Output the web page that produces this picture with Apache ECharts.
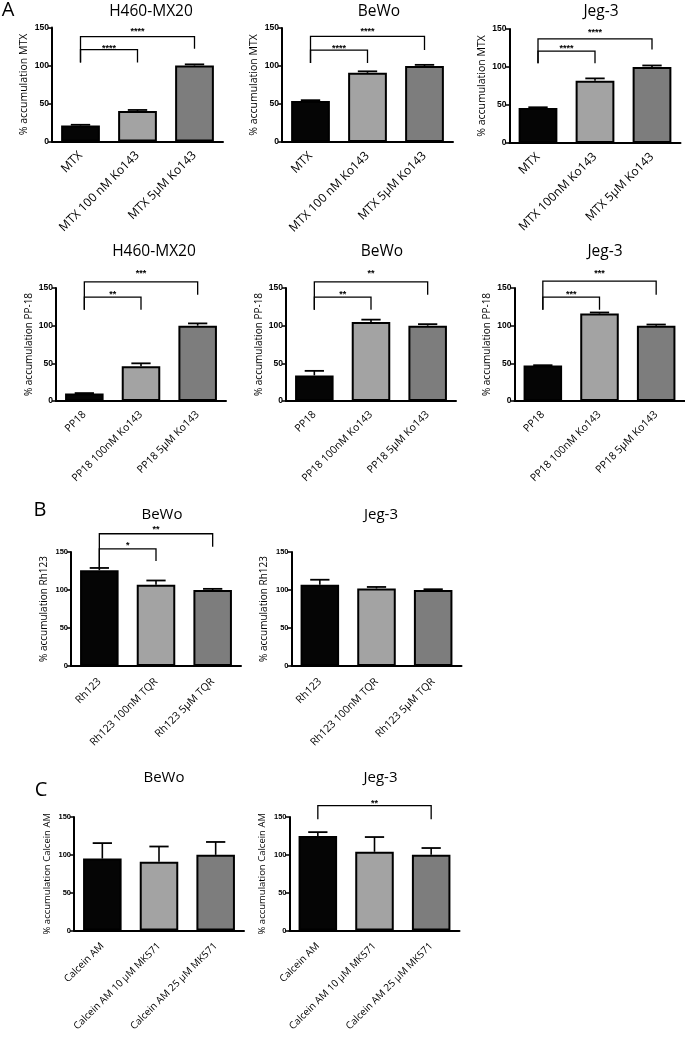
<!DOCTYPE html>
<html><head><meta charset="utf-8">
<script src="https://cdn.jsdelivr.net/npm/echarts@6/dist/echarts.min.js"></script>
<style>html,body{margin:0;padding:0;background:#fff}#c{width:685px;height:1039px}</style>
</head><body><div id="c"></div>
<script>
// ---------- categories ----------
const catsMtxA = ['MTX', 'MTX 100 nM Ko143', 'MTX 5\u00b5M Ko143'];
const catsMtxB = ['MTX', 'MTX 100nM Ko143', 'MTX 5\u00b5M Ko143'];
const catsPP18 = ['PP18', 'PP18 100nM Ko143', 'PP18 5\u00b5M Ko143'];
const catsRh123 = ['Rh123', 'Rh123 100nM TQR', 'Rh123 5\u00b5M TQR'];
const catsCalcein = ['Calcein AM', 'Calcein AM 10 \u00b5M MK571', 'Calcein AM 25 \u00b5M MK571'];

// ---------- y axis ticks ----------
const yMin = 0, yMax = 150, yStep = 50;

// ---------- values: mean and upper error ----------
const h460MtxMean = [21, 40, 100];   const h460MtxErr = [1, 1.5, 1.5];
const bewoMtxMean = [54, 91, 100];   const bewoMtxErr = [1, 2, 1.5];
const jegMtxMean  = [46, 82, 100];   const jegMtxErr  = [1, 3, 2];
const h460PpMean  = [10, 46, 100];   const h460PpErr  = [0.5, 4, 3];
const bewoPpMean  = [34, 105, 100];  const bewoPpErr  = [6, 3, 2];
const jegPpMean   = [47, 116, 100];  const jegPpErr   = [0.5, 1.5, 1.5];
const bewoRhMean  = [126, 107, 100]; const bewoRhErr  = [3, 5.5, 1.5];
const jegRhMean   = [107, 102, 100]; const jegRhErr   = [6.5, 2, 1];
const bewoCalMean = [95, 91, 100];   const bewoCalErr = [20.5, 20, 17];
const jegCalMean  = [125, 104, 100]; const jegCalErr  = [5, 19.5, 9];

// ---------- significance brackets: [fromCat, toCat, height, leftLegEnd, rightLegEnd, starsLevel] ----------
const h460MtxSig = [[0, 1, 121, 104, 104, 125], [0, 2, 138, 104, 122, 148]];
const h460MtxStars = ['****', '****'];
const bewoMtxSig = [[0, 1, 121, 104, 104, 126], [0, 2, 139, 104, 121, 148]];
const bewoMtxStars = ['****', '****'];
const jegMtxSig = [[0, 1, 121, 105, 105, 127], [0, 2, 137, 105, 123, 148]];
const jegMtxStars = ['****', '****'];
const h460PpSig = [[0, 1, 138, 121, 121, 144], [0, 2, 158, 121, 141, 172]];
const h460PpStars = ['**', '***'];
const bewoPpSig = [[0, 1, 138, 121, 121, 144], [0, 2, 158, 121, 141, 172]];
const bewoPpStars = ['**', '**'];
const jegPpSig = [[0, 1, 138, 121, 121, 144], [0, 2, 159, 121, 141, 172]];
const jegPpStars = ['***', '***'];
const bewoRhSig = [[0, 1, 154, 129, 138, 161], [0, 2, 174, 129, 157, 182]];
const bewoRhStars = ['*', '**'];
const jegRhSig = [];
const jegRhStars = [];
const bewoCalSig = [];
const bewoCalStars = [];
const jegCalSig = [[0, 2, 165, 147, 147, 171]];
const jegCalStars = ['**'];

// ---------- titles / axis names ----------
const titles = ['H460-MX20', 'BeWo', 'Jeg-3', 'H460-MX20', 'BeWo', 'Jeg-3', 'BeWo', 'Jeg-3', 'BeWo', 'Jeg-3'];
const yNames = ['% accumulation MTX', '% accumulation MTX', '% accumulation MTX',
  '% accumulation PP-18', '% accumulation PP-18', '% accumulation PP-18',
  '% accumulation Rh123', '% accumulation Rh123',
  '% accumulation Calcein AM', '% accumulation Calcein AM'];
const panelLetters = ['A', 'B', 'C'];

const panelData = [
  {cats: catsMtxA, mean: h460MtxMean, err: h460MtxErr, sig: h460MtxSig, stars: h460MtxStars},
  {cats: catsMtxA, mean: bewoMtxMean, err: bewoMtxErr, sig: bewoMtxSig, stars: bewoMtxStars},
  {cats: catsMtxB, mean: jegMtxMean, err: jegMtxErr, sig: jegMtxSig, stars: jegMtxStars},
  {cats: catsPP18, mean: h460PpMean, err: h460PpErr, sig: h460PpSig, stars: h460PpStars},
  {cats: catsPP18, mean: bewoPpMean, err: bewoPpErr, sig: bewoPpSig, stars: bewoPpStars},
  {cats: catsPP18, mean: jegPpMean, err: jegPpErr, sig: jegPpSig, stars: jegPpStars},
  {cats: catsRh123, mean: bewoRhMean, err: bewoRhErr, sig: bewoRhSig, stars: bewoRhStars},
  {cats: catsRh123, mean: jegRhMean, err: jegRhErr, sig: jegRhSig, stars: jegRhStars},
  {cats: catsCalcein, mean: bewoCalMean, err: bewoCalErr, sig: bewoCalSig, stars: bewoCalStars},
  {cats: catsCalcein, mean: jegCalMean, err: jegCalErr, sig: jegCalSig, stars: jegCalStars}
];

// ---------- layout (pixels) ----------
const layout = [
  {g: [52, 27.5, 171, 114], t: [151, 12], tf: 15.5, xf: 12, xm: 12, nf: 10.5, tk: 8.5},
  {g: [282, 28, 171, 114], t: [379, 12], tf: 15.5, xf: 12, xm: 12, nf: 10.5, tk: 8.5},
  {g: [509.5, 29, 171, 114], t: [601, 12], tf: 15.5, xf: 12, xm: 12, nf: 10.5, tk: 8.5},
  {g: [56, 288, 170, 113], t: [154, 252], tf: 15.5, xf: 10.5, xm: 12, nf: 10, tk: 8.5},
  {g: [286, 288, 170, 113], t: [382, 252], tf: 15.5, xf: 10.5, xm: 12, nf: 10, tk: 8.5},
  {g: [514.5, 288, 170, 113], t: [605, 252], tf: 15.5, xf: 10.5, xm: 12, nf: 10, tk: 8.5},
  {g: [71, 552, 170, 114], t: [162, 515], tf: 15, xf: 10.5, xm: 14, nf: 10, tk: 7.5},
  {g: [291.5, 552, 170, 114], t: [381, 515], tf: 15, xf: 10.5, xm: 14, nf: 10, tk: 7.5},
  {g: [74, 817, 170, 113.5], t: [164, 778], tf: 15, xf: 10, xm: 14, nf: 9.5, tk: 7.5},
  {g: [289.5, 817, 170, 113.5], t: [380.5, 778], tf: 15, xf: 10, xm: 14, nf: 9.5, tk: 7.5}
];
const letterPos = [[8, 10], [40, 510], [41, 790]];
const barColors = ['#050505', '#a3a3a3', '#7d7d7d'];
const FONT = '"Open Sans", "Noto Sans", sans-serif';
const NUMFONT = '"Liberation Sans", Arial, sans-serif';
const BAR_FRAC = 0.68;

function errRender(params, api) {
  const x = api.value(0), v = api.value(1), e = api.value(2);
  const p0 = api.coord([x, v]);
  const p1 = api.coord([x, v + e]);
  const cw = api.size([1, 0])[0] * BAR_FRAC * 0.5;
  return {type: 'group', children: [
    {type: 'line', shape: {x1: p0[0], y1: p0[1], x2: p1[0], y2: p1[1]}, style: {stroke: '#000', lineWidth: 1.6}},
    {type: 'line', shape: {x1: p1[0] - cw / 2, y1: p1[1], x2: p1[0] + cw / 2, y2: p1[1]}, style: {stroke: '#000', lineWidth: 1.8}}
  ]};
}
function makeSigRender(stars) {
  return function (params, api) {
    const x1 = api.value(0), x2 = api.value(1), h = api.value(2), l1 = api.value(3), l2 = api.value(4), sy = api.value(5);
    const a = api.coord([x1, l1]), b = api.coord([x1, h]), c = api.coord([x2, h]), d = api.coord([x2, l2]);
    const s = api.coord([(x1 + x2) / 2, sy]);
    return {type: 'group', children: [
      {type: 'polyline', shape: {points: [a, b, c, d]}, style: {stroke: '#000', lineWidth: 1.3, fill: 'none'}},
      {type: 'text', x: s[0], y: s[1] + 2, style: {text: stars[params.dataIndex], fill: '#000',
        font: 'bold 9px ' + NUMFONT, textAlign: 'center', textVerticalAlign: 'middle'}}
    ]};
  };
}

const grid = [], xAxis = [], yAxis = [], series = [], graphic = [];
panelData.forEach(function (p, k) {
  const L = layout[k];
  grid.push({left: L.g[0], top: L.g[1], width: L.g[2], height: L.g[3], containLabel: false});
  xAxis.push({type: 'category', gridIndex: k, data: p.cats,
    axisLine: {onZero: false, lineStyle: {color: '#000', width: 2}},
    axisTick: {alignWithLabel: true, length: 4, lineStyle: {color: '#000', width: 1.5}},
    axisLabel: {rotate: 45, interval: 0, fontSize: L.xf, color: '#000', margin: L.xm, fontFamily: FONT}});
  xAxis.push({type: 'value', gridIndex: k, min: -0.5, max: 2.5, show: false});
  yAxis.push({type: 'value', gridIndex: k, min: yMin, max: yMax, interval: yStep,
    name: yNames[k], nameLocation: 'middle', nameGap: 22,
    nameTextStyle: {fontSize: L.nf, color: '#000', fontFamily: FONT},
    axisLine: {show: true, onZero: false, lineStyle: {color: '#000', width: 2}},
    axisTick: {show: true, length: 4, lineStyle: {color: '#000', width: 1.5}},
    axisLabel: {fontSize: L.tk, fontWeight: 'bold', color: '#000', margin: 3, fontFamily: NUMFONT},
    splitLine: {show: false}});
  series.push({type: 'bar', xAxisIndex: 2 * k, yAxisIndex: k, barWidth: (BAR_FRAC * 100) + '%',
    data: p.mean.map(function (v, i) { return {value: v, itemStyle: {color: barColors[i]}}; }),
    itemStyle: {borderColor: '#000', borderWidth: 2}, silent: true, animation: false});
  series.push({type: 'custom', xAxisIndex: 2 * k + 1, yAxisIndex: k, renderItem: errRender,
    data: p.mean.map(function (v, i) { return [i, v, p.err[i]]; }), silent: true, animation: false});
  if (p.sig.length) {
    series.push({type: 'custom', xAxisIndex: 2 * k + 1, yAxisIndex: k, renderItem: makeSigRender(p.stars),
      data: p.sig, silent: true, animation: false});
  }
  graphic.push({type: 'text', x: L.t[0], y: L.t[1], style: {text: titles[k], fill: '#000',
    font: L.tf + 'px ' + FONT, textAlign: 'center', textVerticalAlign: 'middle'}});
});
panelLetters.forEach(function (t, i) {
  graphic.push({type: 'text', x: letterPos[i][0], y: letterPos[i][1], style: {text: t, fill: '#000',
    font: '20px ' + FONT, textAlign: 'center', textVerticalAlign: 'middle'}});
});

const chart = echarts.init(document.getElementById('c'), null, {renderer: 'canvas'});
chart.setOption({backgroundColor: '#fff', animation: false, grid: grid, xAxis: xAxis, yAxis: yAxis, series: series, graphic: graphic});
</script></body></html>
